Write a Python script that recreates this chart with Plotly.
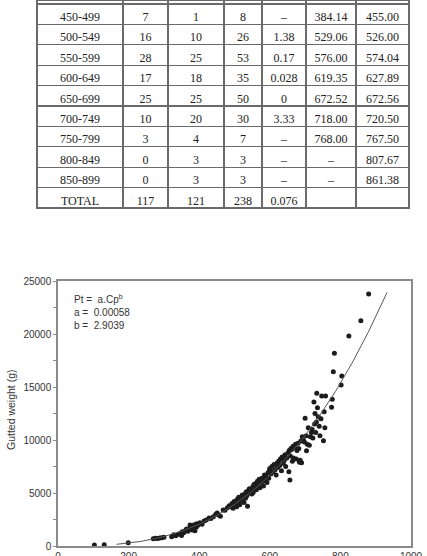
import numpy as np
import plotly.graph_objects as go

# ---------------- table data ----------------
size_class = ["450-499", "500-549", "550-599", "600-649", "650-699",
              "700-749", "750-799", "800-849", "850-899", "TOTAL"]
males = ["7", "16", "28", "17", "25", "10", "3", "0", "0", "117"]
females = ["1", "10", "25", "18", "25", "20", "4", "3", "3", "121"]
totals = ["8", "26", "53", "35", "50", "30", "7", "3", "3", "238"]
chi_sq = ["–", "1.38", "0.17", "0.028", "0", "3.33", "–", "–", "–", "0.076"]
mean_males = ["384.14", "529.06", "576.00", "619.35", "672.52", "718.00", "768.00", "–", "–", ""]
mean_females = ["455.00", "526.00", "574.04", "627.89", "672.56", "720.50", "767.50", "807.67", "861.38", ""]

# ---------------- scatter data (Cp in mm, Pt in g) ----------------
cp = [103, 131, 199,
      270, 276, 282, 288, 294, 300,
      322, 328, 334, 340, 346, 350,
      352, 356, 360, 364, 368, 372, 376, 380, 384, 388, 392, 396, 374, 393, 378, 386,
      402, 408, 414, 420, 428, 433, 440, 447, 451, 455, 460,
      468, 473, 480, 485, 490, 493, 496, 499, 503, 506,
      508, 510, 512, 515, 518, 520, 522, 525, 527, 530, 531, 533, 535, 537, 538, 540, 542, 545, 547, 549,
      552, 553, 555, 557, 560, 562, 565, 567, 570, 572, 575, 578, 580, 582, 585, 587, 590, 592, 595, 597, 599,
      600, 603, 606, 609, 612, 615, 618, 620, 622, 625, 628, 630, 633, 635, 638, 641, 643, 645, 648,
      652, 654, 655, 657, 658, 660, 662, 664, 666, 667, 670, 673, 675, 677, 680, 682, 684, 686, 688, 690, 692, 695, 698,
      700, 703, 704, 706, 709, 712, 715, 718, 720, 722, 725, 727, 728, 730, 732, 733, 735, 737, 740, 742, 745, 747,
      752, 754, 756, 758, 775, 777, 780, 783,
      802, 804, 824, 858, 880]
pt = [100, 110, 300,
      680, 720, 700, 760, 780, 820,
      880, 1050, 960, 1100, 1180, 1000,
      1350, 1250, 1450, 1600, 1400, 1550, 1700, 1500, 1650, 1450, 1800, 1950, 1980, 2100, 1900, 2000,
      2200, 2050, 2350, 2450, 2640, 2600, 2750, 3000, 3110, 2925, 2800,
      3400, 3380, 3600, 3800, 3700, 4000, 3550, 4200, 3900, 3700,
      4400, 4100, 4600, 3900, 4500, 4300, 4800, 4650, 4100, 4900, 4500, 5100, 4750, 3750, 5200, 5000, 5400, 5150, 5300, 4900,
      5600, 5050, 5800, 5500, 5900, 5300, 6100, 5700, 6300, 5500, 6000, 6400, 6100, 5650, 6700, 6300, 6500, 6000, 6900, 6400, 7100,
      7300, 6800, 7500, 7000, 7700, 7200, 6700, 7800, 7400, 8000, 7600, 8200, 7100, 8400, 7800, 8100, 8600, 7500, 8300,
      8800, 7000, 9000, 6230, 8500, 9200, 9100, 8000, 9400, 8300, 9300, 9600, 8200, 9000, 9700, 9200, 7900, 8100, 9900, 7860, 10300, 10000, 9800,
      12050, 10400, 8990, 9600, 11160, 9500, 10300, 10700, 11000, 10200, 13585, 11500, 12500, 10700, 11700, 14400, 13050, 12200, 11300, 10400, 12000, 14150,
      9940, 12670, 11160, 14150, 13085, 13840, 16450, 18180,
      15190, 16040, 19810, 21255, 23770]

# fitted power curve Pt = a * Cp^b (a scaled to the drawn curve)
CURVE_A = 5.7e-5
CURVE_B = 2.9039
CURVE_START = 166
CURVE_END = 932
curve_x = np.linspace(CURVE_START, CURVE_END, 300)
curve_y = CURVE_A * curve_x ** CURVE_B

W, H = 427, 556

fig = go.Figure()

fig.add_trace(go.Table(
    domain=dict(x=[37 / W, 409 / W], y=[1 - 216 / H, 1]),
    columnwidth=[86, 45, 56, 38, 44, 50, 53],
    header=dict(values=[" "] * 7, height=4, fill_color="white",
                line=dict(color="#6a6a6a", width=1.2),
                font=dict(size=1)),
    cells=dict(values=[size_class, males, females, totals, chi_sq, mean_males, mean_females],
               height=20.4, fill_color="white", align="center",
               line=dict(color="#6a6a6a", width=1.2),
               font=dict(family="Liberation Serif", size=12, color="#222222")),
))

fig.add_trace(go.Scatter(
    x=cp, y=pt, mode="markers",
    marker=dict(size=5, color="#1c1c1c"),
    showlegend=False, cliponaxis=False,
))
fig.add_trace(go.Scatter(
    x=curve_x, y=curve_y, mode="lines",
    line=dict(color="#555555", width=1),
    showlegend=False,
))

tick_font = dict(family="Liberation Sans", size=10, color="#333333")
fig.update_layout(
    width=W, height=H,
    margin=dict(l=0, r=0, t=0, b=0),
    paper_bgcolor="white", plot_bgcolor="white",
    xaxis=dict(domain=[58 / W, 411 / W], range=[0, 1000], dtick=200,
               showgrid=False, zeroline=False, showline=True, mirror=True,
               linecolor="#8a8a8a", linewidth=1.5, ticks="", tickfont=tick_font,
               tickformat="d", automargin=False),
    yaxis=dict(domain=[1 - 546 / H, 1 - 281 / H], range=[0, 25000], dtick=5000,
               showgrid=False, zeroline=False, showline=True, mirror=True,
               linecolor="#8a8a8a", linewidth=1.5, ticks="outside", ticklen=3,
               tickcolor="#8a8a8a", tickfont=tick_font, tickformat="d",
               minor=dict(dtick=2500, ticks="outside", ticklen=3, tickcolor="#8a8a8a"),
               automargin=False),
    annotations=[
        dict(text="Gutted weight (g)", textangle=-90, xref="paper", yref="paper",
             x=11 / W, y=1 - 410 / H, xanchor="center", yanchor="middle", showarrow=False,
             font=dict(family="Liberation Sans", size=10.5, color="#333333")),
        dict(text="Pt =  a.Cp<sup>b</sup><br>a =  0.00058<br>b =  2.9039", xref="paper", yref="paper",
             x=72 / W, y=1 - 291 / H, xanchor="left", yanchor="top", align="left",
             showarrow=False,
             font=dict(family="Liberation Sans", size=10, color="#333333")),
    ],
)

fig.write_html("out.html")
